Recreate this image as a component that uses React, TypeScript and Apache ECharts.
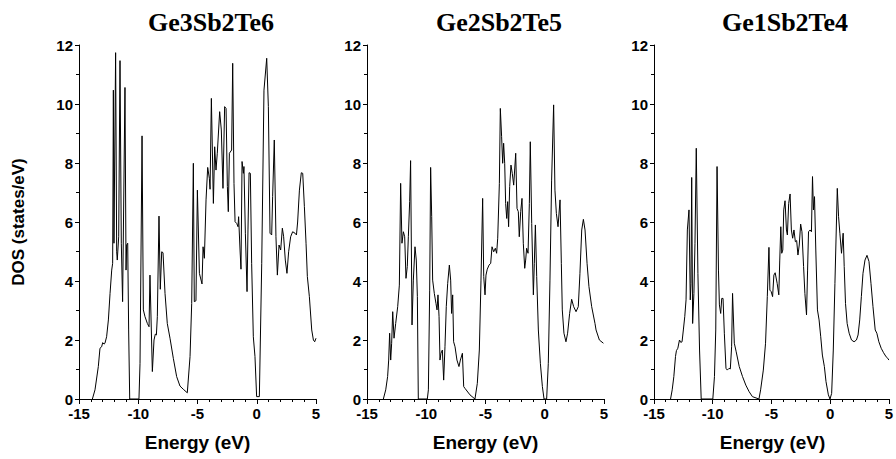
import React, { useEffect, useRef } from "react";
import * as echarts from "echarts";

const panelTitles = ["Ge3Sb2Te6", "Ge2Sb2Te5", "Ge1Sb2Te4"];
const xAxisName = "Energy (eV)";
const yAxisName = "DOS (states/eV)";

// Ge3Sb2Te6
const ge3Energy = [
  -13.87, -13.65, -13.37, -13.23, -13.09, -13.0, -12.89, -12.81, -12.67, -12.52, -12.38, -12.24, -12.16, -12.1, -12.05,
  -11.91, -11.82, -11.77, -11.65, -11.54, -11.43, -11.32, -11.12, -11.03, -10.98, -10.89, -10.81, -10.72, -9.94, -9.85,
  -9.68, -9.57, -9.43, -9.23, -9.09, -9.01, -8.81, -8.67, -8.56, -8.47, -8.39, -8.25, -8.14, -8.02, -7.91, -7.74, -7.55,
  -7.32, -7.04, -6.76, -6.48, -6.2, -5.86, -5.63, -5.49, -5.35, -5.27, -5.13, -5.01, -4.84, -4.62, -4.53, -4.42, -4.28,
  -4.14, -4.0, -3.94, -3.83, -3.66, -3.55, -3.44, -3.33, -3.13, -2.99, -2.85, -2.71, -2.59, -2.48, -2.4, -2.31, -2.12,
  -2.03, -1.92, -1.83, -1.69, -1.58, -1.53, -1.41, -1.33, -1.24, -1.13, -1.08, -0.96, -0.82, -0.74, -0.65, -0.54, -0.43,
  -0.29, -0.15, -0.01, 0.22, 0.42, 0.61, 0.84, 0.98, 1.12, 1.26, 1.34, 1.48, 1.62, 1.74, 1.88, 2.02, 2.16, 2.27, 2.41,
  2.55, 2.69, 2.86, 3.03, 3.23, 3.35, 3.45, 3.6, 3.76, 3.88, 4.02, 4.16, 4.27, 4.44, 4.64, 4.78, 4.89, 5.0,
];
const ge3Dos = [
  0, 0.31, 1.1, 1.72, 1.77, 1.91, 1.86, 1.89, 2.11, 2.68, 3.58, 4.37, 4.6, 10.47, 5.28,
  11.74, 4.99, 4.71, 5.5, 11.47, 5.28, 3.3, 10.56, 4.37, 5.22, 5.28, 2.34, 0, 0, 1.21,
  8.92, 3.02, 2.79, 2.56, 2.45, 4.2, 0.93, 2.0, 2.2, 2.17, 2.79, 6.2, 3.72, 4.99, 4.96, 3.58, 2.56,
  2.06, 1.38, 0.76, 0.44, 0.33, 0.21, 1.44, 3.24, 7.99, 3.3, 3.33, 7.08, 4.26, 3.9, 5.16, 4.77, 6.75,
  7.85, 7.48, 7.11, 10.19, 6.63, 8.55, 7.76, 8.33, 9.74, 9.12, 7.14, 9.91, 9.85, 7.2, 6.35, 8.33, 8.44,
  11.38, 7.31, 6.01, 5.95, 5.84, 6.18, 5.05, 4.4, 8.05, 7.65, 7.88, 5.62, 3.64, 5.73, 7.67, 7.65, 4.6,
  2.11, 1.44, 0.08, 0.08, 4.6, 10.47, 11.55, 9.91, 5.62, 5.56, 6.86, 8.78, 5.5, 4.2, 5.22, 5.05, 5.79, 5.5, 4.71,
  4.26, 4.99, 5.5, 5.67, 5.62, 5.56, 6.0, 7.08, 7.67, 7.65, 6.52, 5.28, 4.15, 3.47, 2.34, 2.0, 1.94, 2.06,
];

// Ge2Sb2Te5
const ge2Energy = [
  -13.62, -13.42, -13.26, -13.17, -13.09, -13.0, -12.92, -12.83, -12.72, -12.58, -12.41, -12.27, -12.16, -12.05, -11.93,
  -11.82, -11.71, -11.6, -11.51, -11.4, -11.32, -11.2, -11.09, -10.95, -10.84, -10.75, -10.67, -9.91, -9.82, -9.71,
  -9.63, -9.54, -9.46, -9.32, -9.18, -9.09, -9.01, -8.92, -8.84, -8.76, -8.64, -8.53, -8.42, -8.31, -8.19, -8.05,
  -7.94, -7.86, -7.77, -7.69, -7.57, -7.41, -7.24, -7.12, -6.95, -6.84, -6.73, -6.31, -5.89, -5.69, -5.52, -5.38,
  -5.24, -5.15, -5.04, -4.96, -4.85, -4.7, -4.56, -4.45, -4.31, -4.17, -4.06, -3.97, -3.83, -3.75, -3.64, -3.55,
  -3.47, -3.38, -3.3, -3.21, -3.13, -3.05, -2.96, -2.85, -2.74, -2.62, -2.45, -2.34, -2.23, -2.15, -2.03, -1.92,
  -1.81, -1.69, -1.61, -1.53, -1.41, -1.3, -1.22, -1.1, -0.96, -0.88, -0.79, -0.68, -0.54, -0.37, -0.2, -0.06,
  0.16, 0.3, 0.44, 0.58, 0.75, 0.86, 0.98, 1.12, 1.29, 1.4, 1.48, 1.62, 1.79, 1.93, 2.1, 2.27, 2.44, 2.64, 2.83,
  2.97, 3.12, 3.26, 3.4, 3.57, 3.73, 3.96, 4.24, 4.33, 4.61, 4.95,
];
const ge2Dos = [
  0, 0.31, 0.76, 1.32, 2.23, 1.32, 1.89, 2.96, 2.06, 2.56, 3.13, 3.86, 7.31, 5.28, 5.67,
  5.5, 4.09, 4.49, 5.5, 6.69, 8.08, 2.51, 4.03, 5.16, 4.71, 3.47, 0, 0, 0.31, 3.69,
  7.85, 6.18, 4.03, 3.58, 3.24, 3.02, 3.53, 2.79, 1.32, 1.55, 1.66, 0.64, 1.77, 3.13, 3.92, 4.54,
  4.03, 2.9, 3.53, 1.94, 1.77, 1.32, 1.1, 1.32, 1.55, 0.42, 0.36, 0.14, 0, 0.53, 1.66, 4.03,
  6.8, 4.15, 3.53, 4.2, 4.4, 4.54, 4.6, 5.16, 4.99, 5.11, 4.94, 5.45, 7.31, 9.85, 8.89, 7.99,
  8.67, 7.99, 6.63, 6.12, 6.69, 5.84, 7.2, 7.93, 7.65, 7.25, 8.33, 6.46, 6.35, 5.5, 6.35, 6.8,
  5.28, 4.43, 4.71, 5.11, 4.94, 6.63, 8.72, 5.95, 3.53, 4.6, 5.9, 4.15, 2.34, 1.21, 0.42, 0,
  0, 1.21, 4.03, 7.42, 9.97, 7.08, 6.29, 5.84, 6.75, 4.6, 3.02, 2.23, 1.94, 2.23, 2.9, 3.38, 3.13, 2.96, 3.13,
  4.26, 5.73, 6.09, 5.73, 4.6, 3.81, 3.13, 2.56, 2.34, 2.0, 1.89,
];

// Ge1Sb2Te4
const ge1Energy = [
  -13.59, -13.45, -13.31, -13.17, -13.09, -12.97, -12.83, -12.72, -12.61, -12.5, -12.38, -12.27, -12.16, -12.02, -11.91,
  -11.85, -11.79, -11.71, -11.6, -11.51, -11.4, -11.26, -11.12, -10.98, -9.99, -9.85, -9.74, -9.63, -9.51, -9.43,
  -9.32, -9.23, -9.12, -9.01, -8.87, -8.76, -8.61, -8.5, -8.39, -8.31, -8.16, -8.0, -7.74, -7.46, -7.18, -6.9, -6.62,
  -6.06, -5.92, -5.69, -5.5, -5.35, -5.21, -5.13, -5.02, -4.9, -4.79, -4.68, -4.51, -4.37, -4.29, -4.2, -4.12, -4.03,
  -3.95, -3.84, -3.72, -3.64, -3.53, -3.41, -3.3, -3.19, -3.08, -2.96, -2.85, -2.74, -2.63, -2.51, -2.4, -2.26, -2.15,
  -2.01, -1.92, -1.84, -1.7, -1.59, -1.5, -1.42, -1.33, -1.22, -1.08, -0.94, -0.8, -0.66, -0.49, -0.35, -0.15, -0.01,
  0.13, 0.27, 0.41, 0.61, 0.72, 0.83, 0.97, 1.11, 1.2, 1.31, 1.45, 1.62, 1.82, 2.04, 2.24, 2.38, 2.52, 2.66, 2.8,
  2.97, 3.14, 3.31, 3.48, 3.65, 3.84, 3.98, 4.15, 4.35, 4.55, 4.77, 4.91, 5.0,
];
const ge1Dos = [
  0, 0.31, 0.76, 1.44, 1.64, 1.72, 2.0, 1.92, 1.94, 2.34, 2.79, 3.36, 5.73, 6.41, 3.36,
  3.92, 7.51, 2.56, 3.58, 5.28, 8.5, 4.26, 1.66, 0, 0, 0.76, 2.34, 7.88, 4.37, 3.19,
  2.9, 3.41, 3.41, 2.23, 1.04, 0.98, 1.04, 1.02, 1.77, 3.58, 1.89, 1.6, 1.1, 0.76, 0.47, 0.25, 0.08,
  0, 0.31, 0.98, 1.89, 3.47, 5.14, 3.69, 3.64, 3.47, 4.2, 4.28, 3.92, 3.53, 4.71, 5.84, 4.94, 5.05,
  6.41, 6.72, 5.73, 5.56, 6.63, 6.95, 5.73, 5.45, 5.73, 5.33, 5.37, 4.88, 5.22, 5.93, 5.67, 4.49, 3.58,
  2.85, 4.37, 5.67, 5.73, 5.67, 7.54, 6.41, 6.86, 5.05, 3.02, 2.68, 2.11, 1.49, 1.1, 0.59, 0.14, 0,
  0.19, 1.66, 3.92, 7.14, 6.18, 5.62, 4.94, 5.62, 4.49, 3.24, 2.56, 2.23, 2.0, 1.94, 2.0, 2.17, 2.68, 3.47, 4.26,
  4.71, 4.87, 4.66, 3.92, 3.13, 2.34, 2.23, 1.94, 1.72, 1.57, 1.43, 1.38, 1.32,
];

const panels = [
  { energy: ge3Energy, dos: ge3Dos },
  { energy: ge2Energy, dos: ge2Dos },
  { energy: ge1Energy, dos: ge1Dos },
];

const gridLefts = [79, 367, 654];
const gridTop = 45;
const gridWidth = 237;
const gridHeight = 354;
const titleCenters = [211, 499, 785];

const sans = "Liberation Sans, Arial, sans-serif";
const serif = "Liberation Serif, Times New Roman, serif";

export default function App() {
  const ref = useRef<HTMLDivElement | null>(null);

  useEffect(() => {
    if (!ref.current) return;
    const chart = echarts.init(ref.current, undefined, { renderer: "svg" });

    const axisLabelStyle = {
      color: "#000",
      fontSize: 15,
      fontWeight: "bold" as const,
      fontFamily: sans,
    };

    const graphic: any[] = [];
    panelTitles.forEach((t, i) => {
      graphic.push({
        type: "text",
        x: titleCenters[i],
        y: 22,
        style: {
          text: t,
          fill: "#000",
          fontSize: 26,
          fontWeight: "bold",
          fontFamily: serif,
          align: "center",
          verticalAlign: "middle",
        },
      });
      graphic.push({
        type: "text",
        x: gridLefts[i] + gridWidth / 2,
        y: 442,
        style: {
          text: xAxisName,
          fill: "#000",
          fontSize: 19,
          fontWeight: "bold",
          fontFamily: sans,
          align: "center",
          verticalAlign: "middle",
        },
      });
    });
    graphic.push({
      type: "text",
      x: 18,
      y: 222,
      rotation: Math.PI / 2,
      style: {
        text: yAxisName,
        fill: "#000",
        fontSize: 17,
        fontWeight: "bold",
        fontFamily: sans,
        align: "center",
        verticalAlign: "middle",
      },
    });

    chart.setOption({
      animation: false,
      backgroundColor: "#fff",
      grid: gridLefts.map((l) => ({
        left: l,
        top: gridTop,
        width: gridWidth,
        height: gridHeight,
        containLabel: false,
      })),
      xAxis: gridLefts.map((_, i) => ({
        gridIndex: i,
        type: "value",
        min: -15,
        max: 5,
        interval: 5,
        axisLine: { show: true, onZero: false, lineStyle: { color: "#000", width: 1 } },
        axisTick: { show: true, inside: false, length: 5, lineStyle: { color: "#000", width: 1 } },
        minorTick: { show: true, splitNumber: 5, length: 3, lineStyle: { color: "#000", width: 1 } },
        splitLine: { show: false },
        minorSplitLine: { show: false },
        axisLabel: { ...axisLabelStyle, margin: 7 },
      })),
      yAxis: gridLefts.map((_, i) => ({
        gridIndex: i,
        type: "value",
        min: 0,
        max: 12,
        interval: 2,
        axisLine: { show: true, onZero: false, lineStyle: { color: "#000", width: 1 } },
        axisTick: { show: true, inside: false, length: 4, lineStyle: { color: "#000", width: 1 } },
        minorTick: { show: true, splitNumber: 2, length: 3, lineStyle: { color: "#000", width: 1 } },
        splitLine: { show: false },
        minorSplitLine: { show: false },
        axisLabel: { ...axisLabelStyle, margin: 6 },
      })),
      series: panels.map((p, i) => ({
        type: "line",
        xAxisIndex: i,
        yAxisIndex: i,
        data: p.energy.map((e, j) => [e, p.dos[j]]),
        showSymbol: false,
        symbol: "none",
        smooth: false,
        lineStyle: { color: "#000", width: 1 },
        z: 3,
      })),
      graphic,
    });

    return () => chart.dispose();
  }, []);

  return (
    <div
      ref={ref}
      style={{ position: "absolute", left: 0, top: 0, width: 896, height: 459 }}
    />
  );
}
